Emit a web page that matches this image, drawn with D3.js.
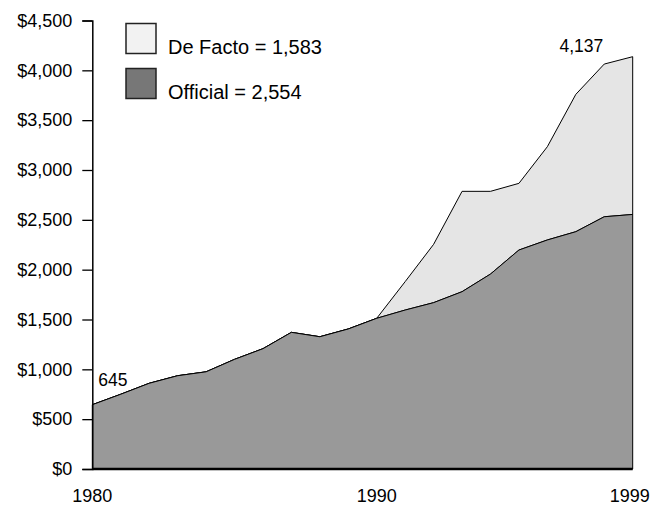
<html>
<head>
<style>
  body { margin: 0; background: #fff; }
  text { font-family: "Liberation Sans", Arial, sans-serif; fill: #000; }
</style>
</head>
<body>
<div id="chart"></div>
<script src="https://d3js.org/d3.v7.min.js"></script>
<script>
// data
var years = d3.range(1980, 2000);
var official = [645, 750, 860, 936, 975, 1100, 1207, 1371, 1327, 1405,
                1512, 1595, 1669, 1779, 1956, 2197, 2298, 2381, 2531, 2554];
var deFacto = [0, 0, 0, 0, 0, 0, 0, 0, 0, 0,
               0, 285, 585, 1007, 830, 669, 936, 1378, 1532, 1583];
var yTicks = [0, 500, 1000, 1500, 2000, 2500, 3000, 3500, 4000, 4500];
var xLabels = [1980, 1990, 1999];
var legendItems = [
  { name: "De Facto", total: 1583, color: "#f2f2f2" },
  { name: "Official", total: 2554, color: "#777777" }
];

var W = 653, H = 506,
    margin = { top: 20.5, right: 20, bottom: 37, left: 92.3 };

var svg = d3.select("#chart").append("svg")
    .attr("width", W)
    .attr("height", H);

var x = d3.scaleLinear().domain([1980, 1999]).range([margin.left, 632.7]);
var y = d3.scaleLinear().domain([0, 4500]).range([H - margin.bottom, margin.top]);

var table = years.map(function(yr, i) {
  return { year: yr, official: official[i], deFacto: deFacto[i] };
});
var series = d3.stack().keys(["official", "deFacto"])(table);
var fills = { official: "#999999", deFacto: "#e5e5e5" };

var area = d3.area()
    .x(function(d) { return x(d.data.year); })
    .y0(function(d) { return y(d[0]); })
    .y1(function(d) { return y(d[1]); });

svg.selectAll("path.layer")
  .data(series.slice().reverse())
  .enter()
  .append("path")
  .attr("class", "layer")
  .attr("d", area)
  .attr("fill", function(d) { return fills[d.key]; })
  .attr("stroke", "#000")
  .attr("stroke-width", 1)
  .attr("stroke-linejoin", "round");

// y axis
var yAxis = svg.append("g")
  .attr("transform", "translate(" + margin.left + ",0)")
  .call(d3.axisLeft(y).tickValues(yTicks).tickSize(10).tickPadding(10)
        .tickFormat(function(d) { return "$" + d3.format(",")(d); }));
yAxis.selectAll("text").style("font-size", "18px").attr("fill", "#000");
yAxis.selectAll("line").attr("stroke", "#000").attr("stroke-width", 1.3);
yAxis.select(".domain").attr("stroke", "#000").attr("stroke-width", 1.5);

// x baseline
svg.append("line")
  .attr("x1", x(1980)).attr("x2", x(1999))
  .attr("y1", y(0)).attr("y2", y(0))
  .attr("stroke", "#000")
  .attr("stroke-width", 2.4);

svg.selectAll("text.xlab")
  .data(xLabels)
  .enter()
  .append("text")
  .attr("class", "xlab")
  .attr("x", function(d) { return d === 1999 ? x(d) - 3 : x(d); })
  .attr("y", y(0) + 33)
  .attr("text-anchor", "middle")
  .style("font-size", "18px")
  .text(function(d) { return d; });

// end point labels
var first = official[0] + deFacto[0];
var last = official[official.length - 1] + deFacto[deFacto.length - 1];
svg.append("text")
  .attr("x", x(1980) + 6)
  .attr("y", y(first) - 19)
  .style("font-size", "17.5px")
  .text(d3.format(",")(first));
svg.append("text")
  .attr("x", x(1998) - 1)
  .attr("y", y(last) - 5)
  .attr("text-anchor", "end")
  .style("font-size", "17.5px")
  .text(d3.format(",")(last));

// legend
var lg = svg.selectAll("g.legend")
  .data(legendItems)
  .enter()
  .append("g")
  .attr("class", "legend")
  .attr("transform", function(d, i) { return "translate(126," + (23.5 + i * 45) + ")"; });
lg.append("rect")
  .attr("width", 30).attr("height", 30)
  .attr("fill", function(d) { return d.color; })
  .attr("stroke", "#222")
  .attr("stroke-width", 1.5);
lg.append("text")
  .attr("x", 42)
  .attr("y", 30)
  .style("font-size", "20px")
  .text(function(d) { return d.name + " = " + d3.format(",")(d.total); });
</script>
</body>
</html>
